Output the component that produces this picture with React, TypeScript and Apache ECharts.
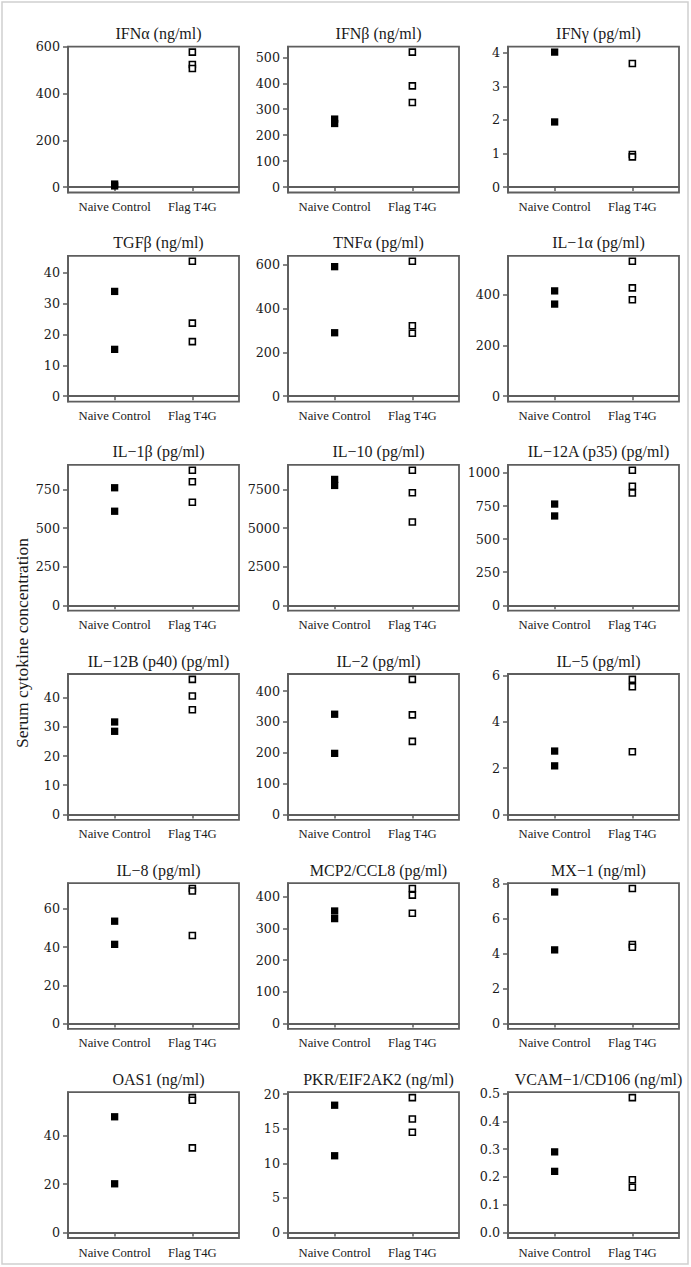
import React, { useEffect, useRef } from "react";
import * as echarts from "echarts";

const CATEGORIES = ["Naive Control", "Flag T4G"];
const CATEGORY_POS = [1, 2];

const TITLES = [
  "IFNα (ng/ml)", "IFNβ (ng/ml)", "IFNγ (pg/ml)",
  "TGFβ (ng/ml)", "TNFα (pg/ml)", "IL−1α (pg/ml)",
  "IL−1β (pg/ml)", "IL−10 (pg/ml)", "IL−12A (p35) (pg/ml)",
  "IL−12B (p40) (pg/ml)", "IL−2 (pg/ml)", "IL−5 (pg/ml)",
  "IL−8 (pg/ml)", "MCP2/CCL8 (pg/ml)", "MX−1 (ng/ml)",
  "OAS1 (ng/ml)", "PKR/EIF2AK2 (ng/ml)", "VCAM−1/CD106 (ng/ml)",
];

const NAIVE = [
  [5, 13], [262, 245], [4.02, 1.94],
  [34, 15.2], [592, 290], [415, 363],
  [761, 609], [8150, 7760], [765, 675],
  [31.7, 28.5], [325, 198], [2.74, 2.1],
  [53.5, 41.4], [355, 331], [7.52, 4.21],
  [47.7, 20.1], [18.4, 11.1], [0.29, 0.22],
];

const FLAG = [
  [578, 525, 508], [520, 390, 326], [3.68, 0.97, 0.9],
  [43.8, 23.7, 17.7], [617, 322, 288], [532, 427, 380],
  [874, 800, 667], [8740, 7283, 5391], [1020, 900, 848],
  [46.3, 40.6, 35.9], [438, 323, 237], [5.84, 5.52, 2.71],
  [70.6, 69.3, 46], [426, 405, 348], [7.72, 4.52, 4.36],
  [55.6, 54.5, 34.9], [19.5, 16.4, 14.5], [0.485, 0.19, 0.163],
];

const Y_TICKS = [
  [0, 200, 400, 600], [0, 100, 200, 300, 400, 500], [0, 1, 2, 3, 4],
  [0, 10, 20, 30, 40], [0, 200, 400, 600], [0, 200, 400],
  [0, 250, 500, 750], [0, 2500, 5000, 7500], [0, 250, 500, 750, 1000],
  [0, 10, 20, 30, 40], [0, 100, 200, 300, 400], [0, 2, 4, 6],
  [0, 20, 40, 60], [0, 100, 200, 300, 400], [0, 2, 4, 6, 8],
  [0, 20, 40], [0, 5, 10, 15, 20], [0, 0.1, 0.2, 0.3, 0.4, 0.5],
];

const Y_LABEL = "Serum cytokine concentration";

const WIDE_FONT = '"DejaVu Serif", "Liberation Serif", serif';
const FONT = '"Liberation Serif", "Times New Roman", serif';
const TEXT = "#1a1a1a";
const BOX = "#5e5e5e";

const COL_LEFT = [68, 288, 508];
const BOX_W = 171;
const ROW_TOP0 = 46.7;
const ROW_PITCH = 209.1;
const BOX_H = 145.8;

function fmtTick(v: number, ticks: number[]) {
  const hasDecimal = ticks.some((t) => Math.round(t) !== t);
  return hasDecimal ? v.toFixed(1) : String(v);
}

function buildOption() {
  const grid: any[] = [];
  const xAxis: any[] = [];
  const yAxis: any[] = [];
  const series: any[] = [];
  const title: any[] = [];

  TITLES.forEach((t, i) => {
    const r = Math.floor(i / 3);
    const c = i % 3;
    const left = COL_LEFT[c];
    const top = ROW_TOP0 + r * ROW_PITCH;
    const all = [...NAIVE[i], ...FLAG[i]];
    const dmax = Math.max(...all);
    const ticks = Y_TICKS[i];

    grid.push({
      left, top, width: BOX_W, height: BOX_H,
      show: true, borderColor: BOX, borderWidth: 1.8, backgroundColor: "transparent",
      containLabel: false,
    });
    title.push({
      text: t,
      left: left + BOX_W / 2,
      top: top - 26,
      textAlign: "center",
      textStyle: { fontFamily: FONT, fontSize: 16, fontWeight: "normal", color: TEXT },
    });
    xAxis.push({
      gridIndex: i, type: "value", min: 0.4, max: 2.6,
      axisLine: { show: true, lineStyle: { color: BOX, width: 1.8 } },
      axisTick: { show: true, customValues: CATEGORY_POS, length: 4, lineStyle: { color: BOX, width: 1.5 } },
      axisLabel: {
        show: true, customValues: CATEGORY_POS, margin: 8,
        formatter: (v: number) => CATEGORIES[CATEGORY_POS.indexOf(Math.round(v))] ?? "",
        fontFamily: FONT, fontSize: 12.7, color: TEXT,
      },
      splitLine: { show: false },
    });
    yAxis.push({
      gridIndex: i, type: "value", min: -0.04 * dmax, max: 1.04 * dmax,
      axisLine: { show: true, lineStyle: { color: BOX, width: 1.8 } },
      axisTick: { show: true, customValues: ticks, length: 5, inside: false, lineStyle: { color: BOX, width: 1.5 } },
      axisLabel: {
        show: true, customValues: ticks, margin: 8,
        formatter: (v: number) => fmtTick(v, ticks),
        fontFamily: WIDE_FONT, fontSize: 12.7, color: TEXT,
      },
      splitLine: { show: false },
    });
    series.push({
      type: "scatter", xAxisIndex: i, yAxisIndex: i, name: CATEGORIES[0],
      symbol: "rect", symbolSize: 7.3,
      itemStyle: { color: "#000", opacity: 1 },
      data: NAIVE[i].map((v) => [CATEGORY_POS[0], v]),
    });
    series.push({
      type: "scatter", xAxisIndex: i, yAxisIndex: i, name: CATEGORIES[1],
      symbol: "rect", symbolSize: 6,
      itemStyle: { color: "#fff", borderColor: "#000", borderWidth: 1.6, opacity: 1 },
      data: FLAG[i].map((v) => [CATEGORY_POS[1], v]),
    });
  });

  return {
    animation: false,
    backgroundColor: "#ffffff",
    title,
    grid,
    xAxis,
    yAxis,
    series,
    graphic: [
      {
        type: "rect",
        shape: { x: 2, y: 2, width: 686, height: 1262 },
        style: { fill: "none", stroke: "#d0d0d0", lineWidth: 1.5 },
        silent: true,
      },
      {
        type: "text",
        x: 22,
        y: 643,
        rotation: Math.PI / 2,
        style: {
          text: Y_LABEL,
          fontFamily: FONT,
          fontSize: 17.5,
          fill: TEXT,
          textAlign: "center",
          textVerticalAlign: "middle",
        },
      },
    ],
  };
}

export default function App() {
  const ref = useRef<HTMLDivElement>(null);
  useEffect(() => {
    if (!ref.current) return;
    const chart = echarts.init(ref.current, undefined, { renderer: "svg" });
    chart.setOption(buildOption() as any);
    return () => chart.dispose();
  }, []);
  return (
    <div
      ref={ref}
      style={{ position: "absolute", left: 0, top: 0, width: 691, height: 1267, background: "#fff" }}
    />
  );
}
